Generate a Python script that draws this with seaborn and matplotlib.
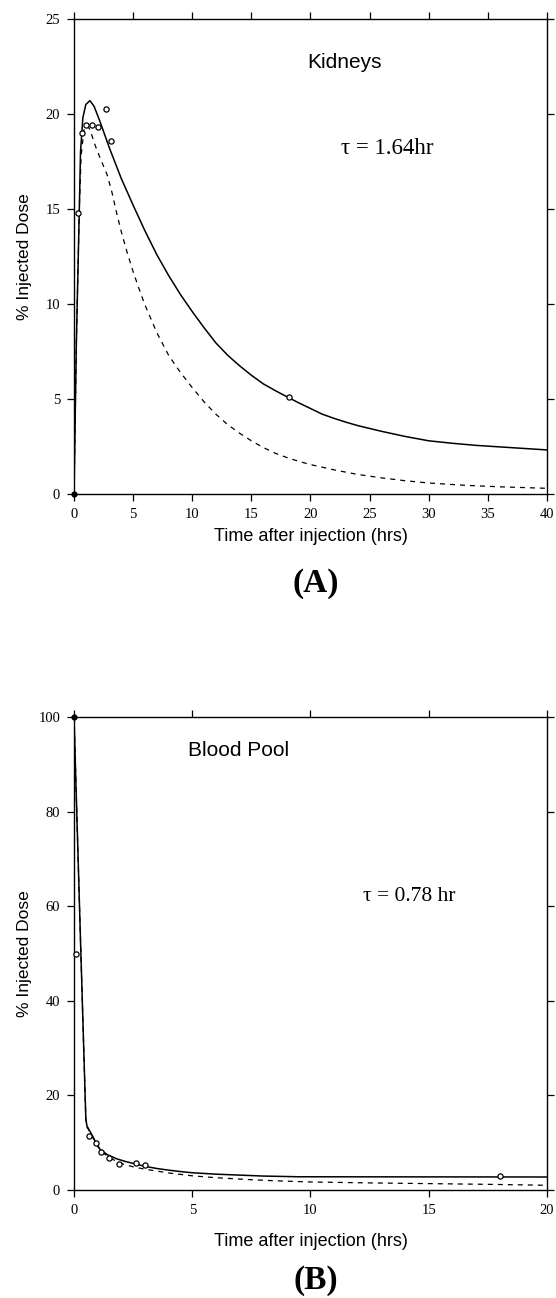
"""Two-panel biodistribution curves: kidneys (A) and blood pool (B)."""

import matplotlib
matplotlib.use("Agg")
import matplotlib.pyplot as plt
import pandas as pd
import seaborn as sns
from matplotlib import font_manager

# ---------------------------------------------------------------------------
# Data
# ---------------------------------------------------------------------------
# Panel A: kidneys
kid_fit_t = [0, 0.2, 0.45, 0.55, 0.75, 1.0, 1.35, 1.7, 2.2, 2.6, 3.0, 3.5,
             4.0, 4.5, 5.0, 6.0, 7.0, 8.0, 9.0, 10.0, 11.0, 12.0, 13.0, 14.0,
             15.0, 16.0, 17.0, 18.0, 19.0, 20.0, 21.0, 22.0, 23.0, 24.0,
             26.0, 28.0, 30.0, 32.0, 34.0, 36.0, 38.0, 40.0]
kid_fit_y = [0, 8.0, 15.0, 18.0, 19.8, 20.5, 20.7, 20.4, 19.6, 18.9, 18.2,
             17.4, 16.6, 15.9, 15.2, 13.85, 12.6, 11.5, 10.5, 9.6, 8.75, 7.95,
             7.3, 6.75, 6.25, 5.8, 5.45, 5.12, 4.8, 4.5, 4.2, 3.98, 3.78,
             3.6, 3.3, 3.03, 2.8, 2.67, 2.56, 2.48, 2.4, 2.32]
kid_dash_t = [0, 0.2, 0.45, 0.6, 0.85, 1.15, 1.4, 1.7, 2.0, 2.4, 2.8, 3.2,
              3.6, 4.0, 4.5, 5.0, 5.5, 6.0, 7.0, 8.0, 9.0, 10.0, 11.0, 12.0,
              13.0, 14.0, 15.0, 16.0, 17.0, 18.0, 19.0, 20.0, 22.0, 24.0,
              26.0, 28.0, 30.0, 33.0, 36.0, 40.0]
kid_dash_y = [0, 8.0, 15.0, 17.8, 19.2, 19.4, 19.1, 18.5, 18.0, 17.4, 16.8,
              15.9, 14.8, 13.8, 12.7, 11.7, 10.8, 9.95, 8.5, 7.3, 6.4, 5.6,
              4.85, 4.2, 3.65, 3.2, 2.8, 2.45, 2.15, 1.92, 1.72, 1.55, 1.27,
              1.03, 0.85, 0.7, 0.58, 0.46, 0.38, 0.3]
kid_pts_t = [0.3, 0.7, 1.0, 1.5, 2.0, 2.7, 3.1, 18.2]
kid_pts_y = [14.8, 19.0, 19.4, 19.4, 19.3, 20.25, 18.6, 5.1]
kid_start = (0, 0)

# Panel B: blood pool
bld_fit_t = [0, 0.25, 0.5, 0.55, 0.7, 0.9, 1.1, 1.4, 1.8, 2.2, 2.6, 3.0,
             3.5, 4.0, 4.5, 5.0, 6.0, 7.0, 8.0, 9.5, 20.0]
bld_fit_y = [100, 57, 15, 13.5, 12.2, 10.3, 8.6, 7.5, 6.6, 6.0, 5.5, 5.0,
             4.55, 4.2, 3.9, 3.65, 3.35, 3.15, 2.95, 2.8, 2.75]
bld_dash_t = [0, 0.25, 0.5, 0.55, 0.7, 0.9, 1.1, 1.5, 2.0, 2.5, 3.0, 3.5,
              4.0, 5.0, 6.0, 7.4, 8.5, 10.0, 12.5, 15.0, 17.5, 20.0]
bld_dash_y = [100, 57, 15, 13.3, 12.0, 10.1, 8.4, 6.8, 5.6, 4.9, 4.4, 4.0,
              3.6, 3.0, 2.6, 2.2, 1.95, 1.7, 1.5, 1.35, 1.2, 1.0]
bld_pts_t = [0.08, 0.63, 0.94, 1.15, 1.5, 1.92, 2.62, 3.0, 18.0]
bld_pts_y = [50, 11.5, 10.0, 8.1, 6.7, 5.6, 5.8, 5.3, 2.9]
bld_start = (0, 100)

# ---------------------------------------------------------------------------
# Styling
# ---------------------------------------------------------------------------
sns.set_style("ticks")
_names = {f.name for f in font_manager.fontManager.ttflist}
SANS = ["Liberation Sans Narrow"] if "Liberation Sans Narrow" in _names else []
SANS += ["Liberation Sans", "DejaVu Sans"]
SERIF = ["Liberation Serif", "DejaVu Serif"]
plt.rcParams["font.family"] = SERIF
plt.rcParams["text.color"] = "black"
plt.rcParams["axes.labelcolor"] = "black"
plt.rcParams["axes.edgecolor"] = "black"
plt.rcParams["axes.linewidth"] = 1.0


def draw_panel(ax, fit_t, fit_y, dash_t, dash_y, pts_t, pts_y, start,
               xmax, ymax, xstep, ystep, xlabel_y):
    sns.lineplot(data=pd.DataFrame({"t": fit_t, "y": fit_y}), x="t", y="y",
                 ax=ax, color="black", linewidth=1.1, sort=False,
                 estimator=None)
    sns.lineplot(data=pd.DataFrame({"t": dash_t, "y": dash_y}), x="t", y="y",
                 ax=ax, color="black", linewidth=0.9, sort=False,
                 estimator=None, linestyle=(0, (4, 4)))
    sns.scatterplot(data=pd.DataFrame({"t": pts_t, "y": pts_y}), x="t", y="y",
                    ax=ax, marker="o", s=14, facecolor="white",
                    edgecolor="black", linewidth=0.9, zorder=4, clip_on=False)
    ax.scatter([start[0]], [start[1]], s=12, color="black", zorder=5,
               clip_on=False)

    ax.set_xlim(0, xmax)
    ax.set_ylim(0, ymax)
    ax.set_xticks(list(range(0, xmax + 1, xstep)))
    ax.set_yticks(list(range(0, ymax + 1, ystep)))
    ax.tick_params(axis="both", direction="out", length=5, width=0.9,
                   top=True, right=True, labeltop=False, labelright=False,
                   labelsize=10.5, colors="black", pad=5)
    for s in ax.spines.values():
        s.set_visible(True)
        s.set_color("black")
    ax.set_xlabel("Time after injection (hrs)", family=SANS, fontsize=13)
    ax.set_ylabel("% Injected Dose", family=SANS, fontsize=12.5)
    ax.xaxis.set_label_coords(0.5, xlabel_y)
    ax.yaxis.set_label_coords(-0.088, 0.5)


fig = plt.figure(figsize=(5.56, 12.98), dpi=100)
ax_a = fig.add_axes([0.1331, 0.6194, 0.8507, 0.366])
ax_b = fig.add_axes([0.1331, 0.0832, 0.8507, 0.3644])

draw_panel(ax_a, kid_fit_t, kid_fit_y, kid_dash_t, kid_dash_y,
           kid_pts_t, kid_pts_y, kid_start, 40, 25, 5, 5, -0.072)
draw_panel(ax_b, bld_fit_t, bld_fit_y, bld_dash_t, bld_dash_y,
           bld_pts_t, bld_pts_y, bld_start, 20, 100, 5, 20, -0.09)

ax_a.text(19.7, 22.7, "Kidneys", family=SANS, fontsize=15, ha="left",
          va="center")
ax_a.text(22.6, 18.2, "\u03c4 = 1.64hr", family=SERIF, fontsize=16.5,
          ha="left", va="center")
ax_b.text(4.8, 93, "Blood Pool", family=SANS, fontsize=15, ha="left",
          va="center")
ax_b.text(12.2, 62, "\u03c4 = 0.78 hr", family=SERIF, fontsize=15.5,
          ha="left", va="center")

fig.text(316 / 556, 1 - 584 / 1298, "(A)", family=SERIF, fontsize=24,
         fontweight="bold", ha="center", va="center")
fig.text(316 / 556, 1 - 1280 / 1298, "(B)", family=SERIF, fontsize=24,
         fontweight="bold", ha="center", va="center")

fig.savefig("out.png", dpi=100)
